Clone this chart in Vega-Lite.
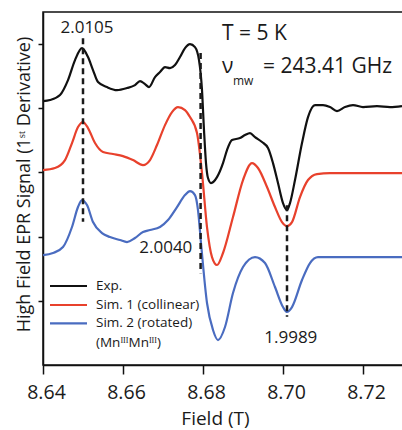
{
  "$schema": "https://vega.github.io/schema/vega-lite/v6.json",
  "autosize": "none",
  "padding": {"left": 43, "top": 12, "right": 0, "bottom": 65},
  "width": 360,
  "height": 353,
  "background": "white",
  "config": {
    "view": {"stroke": "#111", "strokeWidth": 1.5},
    "font": "Open Sans",
    "text": {"font": "Open Sans", "color": "#1a1a1a"}
  },
  "datasets": {
    "spectra": [
      {"series": "Exp.", "field": 8.64, "signal": 4.112},
      {"series": "Exp.", "field": 8.64175, "signal": 4.128},
      {"series": "Exp.", "field": 8.64425, "signal": 4.206},
      {"series": "Exp.", "field": 8.64625, "signal": 4.439},
      {"series": "Exp.", "field": 8.648, "signal": 4.751},
      {"series": "Exp.", "field": 8.64975, "signal": 4.938},
      {"series": "Exp.", "field": 8.65125, "signal": 4.798},
      {"series": "Exp.", "field": 8.6525, "signal": 4.595},
      {"series": "Exp.", "field": 8.65375, "signal": 4.408},
      {"series": "Exp.", "field": 8.656, "signal": 4.33},
      {"series": "Exp.", "field": 8.6585, "signal": 4.283},
      {"series": "Exp.", "field": 8.661, "signal": 4.315},
      {"series": "Exp.", "field": 8.663, "signal": 4.361},
      {"series": "Exp.", "field": 8.66425, "signal": 4.424},
      {"series": "Exp.", "field": 8.6655, "signal": 4.377},
      {"series": "Exp.", "field": 8.6665, "signal": 4.33},
      {"series": "Exp.", "field": 8.668, "signal": 4.486},
      {"series": "Exp.", "field": 8.66925, "signal": 4.564},
      {"series": "Exp.", "field": 8.6705, "signal": 4.642},
      {"series": "Exp.", "field": 8.67175, "signal": 4.626},
      {"series": "Exp.", "field": 8.673, "signal": 4.673},
      {"series": "Exp.", "field": 8.67425, "signal": 4.798},
      {"series": "Exp.", "field": 8.6755, "signal": 4.938},
      {"series": "Exp.", "field": 8.67675, "signal": 5.0},
      {"series": "Exp.", "field": 8.678, "signal": 4.953},
      {"series": "Exp.", "field": 8.679, "signal": 4.751},
      {"series": "Exp.", "field": 8.67975, "signal": 4.283},
      {"series": "Exp.", "field": 8.68025, "signal": 3.66},
      {"series": "Exp.", "field": 8.68075, "signal": 3.146},
      {"series": "Exp.", "field": 8.68125, "signal": 2.913},
      {"series": "Exp.", "field": 8.682, "signal": 2.835},
      {"series": "Exp.", "field": 8.6835, "signal": 2.928},
      {"series": "Exp.", "field": 8.685, "signal": 3.146},
      {"series": "Exp.", "field": 8.686, "signal": 3.349},
      {"series": "Exp.", "field": 8.68725, "signal": 3.505},
      {"series": "Exp.", "field": 8.68925, "signal": 3.536},
      {"series": "Exp.", "field": 8.6905, "signal": 3.583},
      {"series": "Exp.", "field": 8.69175, "signal": 3.614},
      {"series": "Exp.", "field": 8.693, "signal": 3.551},
      {"series": "Exp.", "field": 8.69475, "signal": 3.474},
      {"series": "Exp.", "field": 8.69625, "signal": 3.38},
      {"series": "Exp.", "field": 8.6975, "signal": 3.146},
      {"series": "Exp.", "field": 8.69875, "signal": 2.835},
      {"series": "Exp.", "field": 8.7, "signal": 2.523},
      {"series": "Exp.", "field": 8.701, "signal": 2.414},
      {"series": "Exp.", "field": 8.70175, "signal": 2.523},
      {"series": "Exp.", "field": 8.703, "signal": 2.882},
      {"series": "Exp.", "field": 8.70475, "signal": 3.458},
      {"series": "Exp.", "field": 8.70625, "signal": 3.863},
      {"series": "Exp.", "field": 8.708, "signal": 4.05},
      {"series": "Exp.", "field": 8.71, "signal": 4.05},
      {"series": "Exp.", "field": 8.71175, "signal": 4.019},
      {"series": "Exp.", "field": 8.7135, "signal": 3.956},
      {"series": "Exp.", "field": 8.7155, "signal": 4.019},
      {"series": "Exp.", "field": 8.7175, "signal": 4.05},
      {"series": "Exp.", "field": 8.72, "signal": 4.019},
      {"series": "Exp.", "field": 8.7235, "signal": 4.034},
      {"series": "Exp.", "field": 8.72675, "signal": 4.019},
      {"series": "Exp.", "field": 8.72975, "signal": 4.034},

      {"series": "Sim. 1 (collinear)", "field": 8.64, "signal": 3.037},
      {"series": "Sim. 1 (collinear)", "field": 8.643, "signal": 3.069},
      {"series": "Sim. 1 (collinear)", "field": 8.6455, "signal": 3.193},
      {"series": "Sim. 1 (collinear)", "field": 8.64725, "signal": 3.458},
      {"series": "Sim. 1 (collinear)", "field": 8.64875, "signal": 3.707},
      {"series": "Sim. 1 (collinear)", "field": 8.65, "signal": 3.785},
      {"series": "Sim. 1 (collinear)", "field": 8.65125, "signal": 3.692},
      {"series": "Sim. 1 (collinear)", "field": 8.653, "signal": 3.458},
      {"series": "Sim. 1 (collinear)", "field": 8.655, "signal": 3.318},
      {"series": "Sim. 1 (collinear)", "field": 8.6575, "signal": 3.287},
      {"series": "Sim. 1 (collinear)", "field": 8.66, "signal": 3.255},
      {"series": "Sim. 1 (collinear)", "field": 8.6625, "signal": 3.193},
      {"series": "Sim. 1 (collinear)", "field": 8.665, "signal": 3.115},
      {"series": "Sim. 1 (collinear)", "field": 8.66675, "signal": 3.193},
      {"series": "Sim. 1 (collinear)", "field": 8.6685, "signal": 3.427},
      {"series": "Sim. 1 (collinear)", "field": 8.6705, "signal": 3.738},
      {"series": "Sim. 1 (collinear)", "field": 8.67225, "signal": 3.941},
      {"series": "Sim. 1 (collinear)", "field": 8.67375, "signal": 4.019},
      {"series": "Sim. 1 (collinear)", "field": 8.6755, "signal": 3.972},
      {"series": "Sim. 1 (collinear)", "field": 8.67675, "signal": 3.863},
      {"series": "Sim. 1 (collinear)", "field": 8.6785, "signal": 3.614},
      {"series": "Sim. 1 (collinear)", "field": 8.67975, "signal": 2.991},
      {"series": "Sim. 1 (collinear)", "field": 8.681, "signal": 2.15},
      {"series": "Sim. 1 (collinear)", "field": 8.68225, "signal": 1.682},
      {"series": "Sim. 1 (collinear)", "field": 8.6835, "signal": 1.558},
      {"series": "Sim. 1 (collinear)", "field": 8.685, "signal": 1.745},
      {"series": "Sim. 1 (collinear)", "field": 8.6875, "signal": 2.305},
      {"series": "Sim. 1 (collinear)", "field": 8.69, "signal": 2.882},
      {"series": "Sim. 1 (collinear)", "field": 8.69225, "signal": 3.146},
      {"series": "Sim. 1 (collinear)", "field": 8.69375, "signal": 3.069},
      {"series": "Sim. 1 (collinear)", "field": 8.696, "signal": 2.773},
      {"series": "Sim. 1 (collinear)", "field": 8.698, "signal": 2.461},
      {"series": "Sim. 1 (collinear)", "field": 8.69975, "signal": 2.227},
      {"series": "Sim. 1 (collinear)", "field": 8.701, "signal": 2.165},
      {"series": "Sim. 1 (collinear)", "field": 8.70225, "signal": 2.227},
      {"series": "Sim. 1 (collinear)", "field": 8.70425, "signal": 2.617},
      {"series": "Sim. 1 (collinear)", "field": 8.70625, "signal": 2.882},
      {"series": "Sim. 1 (collinear)", "field": 8.7085, "signal": 2.975},
      {"series": "Sim. 1 (collinear)", "field": 8.71175, "signal": 2.991},
      {"series": "Sim. 1 (collinear)", "field": 8.72975, "signal": 2.991},

      {"series": "Sim. 2 (rotated)", "field": 8.64, "signal": 1.713},
      {"series": "Sim. 2 (rotated)", "field": 8.6425, "signal": 1.745},
      {"series": "Sim. 2 (rotated)", "field": 8.645, "signal": 1.838},
      {"series": "Sim. 2 (rotated)", "field": 8.64725, "signal": 2.15},
      {"series": "Sim. 2 (rotated)", "field": 8.64875, "signal": 2.461},
      {"series": "Sim. 2 (rotated)", "field": 8.64975, "signal": 2.57},
      {"series": "Sim. 2 (rotated)", "field": 8.651, "signal": 2.492},
      {"series": "Sim. 2 (rotated)", "field": 8.6525, "signal": 2.227},
      {"series": "Sim. 2 (rotated)", "field": 8.65475, "signal": 2.056},
      {"series": "Sim. 2 (rotated)", "field": 8.65675, "signal": 1.994},
      {"series": "Sim. 2 (rotated)", "field": 8.65925, "signal": 1.947},
      {"series": "Sim. 2 (rotated)", "field": 8.661, "signal": 1.916},
      {"series": "Sim. 2 (rotated)", "field": 8.663, "signal": 1.978},
      {"series": "Sim. 2 (rotated)", "field": 8.665, "signal": 2.072},
      {"series": "Sim. 2 (rotated)", "field": 8.66675, "signal": 2.103},
      {"series": "Sim. 2 (rotated)", "field": 8.66925, "signal": 2.15},
      {"series": "Sim. 2 (rotated)", "field": 8.67125, "signal": 2.259},
      {"series": "Sim. 2 (rotated)", "field": 8.6735, "signal": 2.461},
      {"series": "Sim. 2 (rotated)", "field": 8.6755, "signal": 2.648},
      {"series": "Sim. 2 (rotated)", "field": 8.67675, "signal": 2.71},
      {"series": "Sim. 2 (rotated)", "field": 8.678, "signal": 2.648},
      {"series": "Sim. 2 (rotated)", "field": 8.67875, "signal": 2.414},
      {"series": "Sim. 2 (rotated)", "field": 8.6795, "signal": 1.9},
      {"series": "Sim. 2 (rotated)", "field": 8.681, "signal": 0.966},
      {"series": "Sim. 2 (rotated)", "field": 8.6825, "signal": 0.545},
      {"series": "Sim. 2 (rotated)", "field": 8.68375, "signal": 0.389},
      {"series": "Sim. 2 (rotated)", "field": 8.6855, "signal": 0.592},
      {"series": "Sim. 2 (rotated)", "field": 8.6875, "signal": 1.121},
      {"series": "Sim. 2 (rotated)", "field": 8.69, "signal": 1.526},
      {"series": "Sim. 2 (rotated)", "field": 8.693, "signal": 1.682},
      {"series": "Sim. 2 (rotated)", "field": 8.6955, "signal": 1.589},
      {"series": "Sim. 2 (rotated)", "field": 8.698, "signal": 1.215},
      {"series": "Sim. 2 (rotated)", "field": 8.7, "signal": 0.903},
      {"series": "Sim. 2 (rotated)", "field": 8.701, "signal": 0.826},
      {"series": "Sim. 2 (rotated)", "field": 8.70225, "signal": 0.903},
      {"series": "Sim. 2 (rotated)", "field": 8.70475, "signal": 1.324},
      {"series": "Sim. 2 (rotated)", "field": 8.70675, "signal": 1.589},
      {"series": "Sim. 2 (rotated)", "field": 8.70875, "signal": 1.682},
      {"series": "Sim. 2 (rotated)", "field": 8.71175, "signal": 1.682},
      {"series": "Sim. 2 (rotated)", "field": 8.72975, "signal": 1.682}
    ],
    "one": [{}]
  },
  "layer": [
    {
      "data": {"name": "spectra"},
      "mark": {"type": "line", "strokeWidth": 2.2, "interpolate": "monotone"},
      "encoding": {
        "x": {
          "field": "field", "type": "quantitative",
          "scale": {"domain": [8.64, 8.73], "nice": false, "zero": false},
          "axis": {
            "title": "Field (T)",
            "values": [8.64, 8.65, 8.66, 8.67, 8.68, 8.69, 8.7, 8.71, 8.72, 8.73],
            "labelExpr": "round(datum.value * 100) % 2 == 0 ? format(datum.value, '.2f') : ''",
            "labelFont": "Open Sans", "labelFontSize": 19.5, "labelColor": "#1a1a1a",
            "labelBaseline": "alphabetic", "labelPadding": 24, "labelOffset": 3,
            "labelFlush": false, "labelOverlap": false,
            "tickSize": {"condition": {"test": "round(datum.value * 100) % 2 == 0", "value": 9}, "value": 4},
            "tickColor": "#111", "tickWidth": 1.5,
            "domainColor": "#111", "domainWidth": 1.5,
            "grid": false,
            "titleFont": "Open Sans", "titleFontSize": 19, "titleFontWeight": "normal", "titleColor": "#1a1a1a",
            "titleBaseline": "alphabetic", "titleY": 59.3, "titleX": 172, "titleAnchor": "middle", "titleAlign": "center"
          }
        },
        "y": {
          "field": "signal", "type": "quantitative",
          "scale": {"domain": [0, 5.5], "nice": false, "zero": false},
          "axis": {
            "title": "High Field EPR Signal (1ˢᵗ Derivative)",
            "values": [1, 2, 3, 4, 5],
            "labels": false,
            "tickSize": 5, "tickColor": "#111", "tickWidth": 1.5,
            "domainColor": "#111", "domainWidth": 1.5,
            "grid": false,
            "titleFont": "Open Sans", "titleFontSize": 18, "titleFontWeight": "normal", "titleColor": "#1a1a1a",
            "titleAngle": -90, "titleX": -19, "titleY": 172, "titleAnchor": "middle", "titleAlign": "center", "titleBaseline": "middle"
          }
        },
        "color": {
          "field": "series", "type": "nominal",
          "scale": {"domain": ["Exp.", "Sim. 1 (collinear)", "Sim. 2 (rotated)"], "range": ["#111111", "#e8412c", "#4a6cc0"]},
          "legend": null
        },
        "detail": {"field": "series"}
      }
    },
    {
      "data": {"name": "one"},
      "mark": {"type": "rule", "strokeDash": [6, 4], "strokeWidth": 2.5, "color": "#1a1a1a"},
      "encoding": {"x": {"datum": 8.65}, "y": {"datum": 5.09}, "y2": {"datum": 2.23}}
    },
    {
      "data": {"name": "one"},
      "mark": {"type": "rule", "strokeDash": [6, 4], "strokeWidth": 2.5, "color": "#1a1a1a"},
      "encoding": {"x": {"datum": 8.6794}, "y": {"datum": 4.86}, "y2": {"datum": 1.43}}
    },
    {
      "data": {"name": "one"},
      "mark": {"type": "rule", "strokeDash": [6, 4], "strokeWidth": 2.5, "color": "#1a1a1a"},
      "encoding": {"x": {"datum": 8.701}, "y": {"datum": 2.49}, "y2": {"datum": 0.75}}
    },
    {
      "data": {"name": "one"},
      "mark": {"type": "text", "fontSize": 17, "align": "center", "baseline": "alphabetic"},
      "encoding": {"x": {"datum": 8.651}, "y": {"datum": 5.171}, "text": {"value": "2.0105"}}
    },
    {
      "data": {"name": "one"},
      "mark": {"type": "text", "fontSize": 17, "align": "center", "baseline": "alphabetic"},
      "encoding": {"x": {"datum": 8.6707}, "y": {"datum": 1.745}, "text": {"value": "2.0040"}}
    },
    {
      "data": {"name": "one"},
      "mark": {"type": "text", "fontSize": 17, "align": "center", "baseline": "alphabetic"},
      "encoding": {"x": {"datum": 8.70195}, "y": {"datum": 0.343}, "text": {"value": "1.9989"}}
    },
    {
      "data": {"name": "one"},
      "mark": {"type": "text", "fontSize": 21, "align": "left", "baseline": "alphabetic"},
      "encoding": {"x": {"datum": 8.68475}, "y": {"datum": 5.062}, "text": {"value": "T = 5 K"}}
    },
    {
      "data": {"name": "one"},
      "mark": {"type": "text", "fontSize": 21, "align": "left", "baseline": "alphabetic"},
      "encoding": {"x": {"datum": 8.68475}, "y": {"datum": 4.548}, "text": {"value": "ν"}}
    },
    {
      "data": {"name": "one"},
      "mark": {"type": "text", "fontSize": 12, "align": "left", "baseline": "alphabetic"},
      "encoding": {"x": {"datum": 8.6875}, "y": {"datum": 4.361}, "text": {"value": "mw"}}
    },
    {
      "data": {"name": "one"},
      "mark": {"type": "text", "fontSize": 21, "align": "left", "baseline": "alphabetic"},
      "encoding": {"x": {"datum": 8.695}, "y": {"datum": 4.548}, "text": {"value": "= 243.41 GHz"}}
    },
    {
      "data": {"name": "one"},
      "mark": {"type": "rule", "strokeWidth": 2.2},
      "encoding": {"x": {"datum": 8.64175}, "x2": {"datum": 8.651}, "y": {"datum": 1.231}, "color": {"datum": "Exp."}}
    },
    {
      "data": {"name": "one"},
      "mark": {"type": "rule", "strokeWidth": 2.2},
      "encoding": {"x": {"datum": 8.64175}, "x2": {"datum": 8.651}, "y": {"datum": 0.935}, "color": {"datum": "Sim. 1 (collinear)"}}
    },
    {
      "data": {"name": "one"},
      "mark": {"type": "rule", "strokeWidth": 2.2},
      "encoding": {"x": {"datum": 8.64175}, "x2": {"datum": 8.651}, "y": {"datum": 0.65}, "color": {"datum": "Sim. 2 (rotated)"}}
    },
    {
      "data": {"name": "one"},
      "mark": {"type": "text", "fontSize": 13.5, "align": "left", "baseline": "middle"},
      "encoding": {"x": {"datum": 8.65325}, "y": {"datum": 1.231}, "text": {"value": "Exp."}}
    },
    {
      "data": {"name": "one"},
      "mark": {"type": "text", "fontSize": 13.5, "align": "left", "baseline": "middle"},
      "encoding": {"x": {"datum": 8.65325}, "y": {"datum": 0.935}, "text": {"value": "Sim. 1 (collinear)"}}
    },
    {
      "data": {"name": "one"},
      "mark": {"type": "text", "fontSize": 13.5, "align": "left", "baseline": "middle"},
      "encoding": {"x": {"datum": 8.65325}, "y": {"datum": 0.65}, "text": {"value": "Sim. 2 (rotated)"}}
    },
    {
      "data": {"name": "one"},
      "mark": {"type": "text", "fontSize": 13.5, "align": "left", "baseline": "middle"},
      "encoding": {"x": {"datum": 8.65325}, "y": {"datum": 0.347}, "text": {"value": "(MnᴵᴵᴵMnᴵᴵᴵ)"}}
    }
  ]
}
